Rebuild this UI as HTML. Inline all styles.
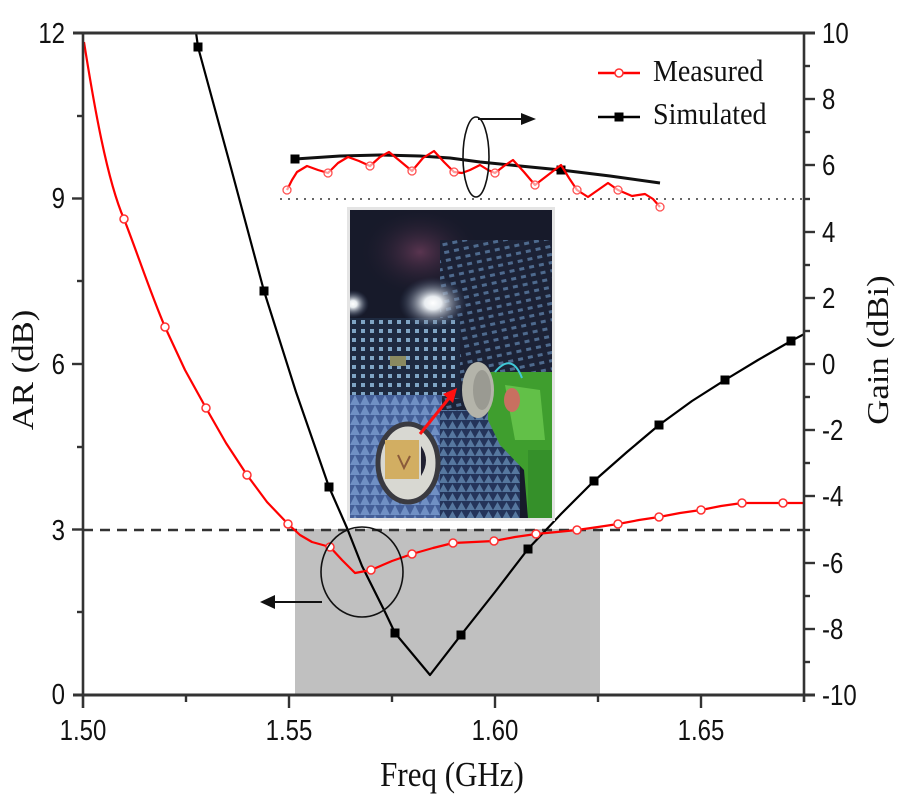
<!DOCTYPE html>
<html><head><meta charset="utf-8"><style>
html,body{margin:0;padding:0;background:#fff;}
svg{display:block;}
.tl{font-family:"Liberation Sans",Arial,sans-serif;font-size:24px;fill:#111;}
.tt{font-family:"Liberation Serif","Times New Roman",serif;fill:#111;}
</style></head><body>
<svg width="900" height="800" viewBox="0 0 900 800" xmlns="http://www.w3.org/2000/svg">
<defs>
<clipPath id="plot"><rect x="83" y="33" width="721" height="662"/></clipPath>
<clipPath id="ph"><rect x="350" y="210" width="202" height="308"/></clipPath>
<radialGradient id="glow1" cx="0.5" cy="0.5" r="0.5"><stop offset="0" stop-color="#ffffff"/><stop offset="0.25" stop-color="#e8ecf0"/><stop offset="1" stop-color="#3a4a6a" stop-opacity="0"/></radialGradient>
<radialGradient id="purp" cx="0.5" cy="0.5" r="0.5"><stop offset="0" stop-color="#5a3550"/><stop offset="1" stop-color="#1a1a2a" stop-opacity="0"/></radialGradient>
<pattern id="grid" x="350" y="318" width="9" height="9" patternUnits="userSpaceOnUse"><rect width="9" height="9" fill="#1e2a40"/><rect x="2" y="2" width="4" height="4" fill="#7fa5c4"/></pattern>
<pattern id="grid2" x="440" y="240" width="10" height="8" patternUnits="userSpaceOnUse" patternTransform="rotate(-12)"><rect width="10" height="8" fill="#1c2236"/><rect x="2" y="2" width="5" height="3" fill="#4e6a8e"/></pattern>
<pattern id="spk" x="350" y="395" width="10" height="10" patternUnits="userSpaceOnUse"><rect width="10" height="10" fill="#445f98"/><path d="M0 10 L5 0 L10 10 Z" fill="#7090c4"/></pattern>
<pattern id="pyr" x="430" y="420" width="9" height="9" patternUnits="userSpaceOnUse"><rect width="9" height="9" fill="#24345a"/><path d="M0 9 L4.5 1 L9 9Z" fill="#56779f"/></pattern>
</defs>

<!-- gray band -->
<rect x="295" y="529" width="305" height="166" fill="#c0c0c0"/>

<!-- dashed 3 dB line -->
<line x1="83" y1="530" x2="804" y2="530" stroke="#333" stroke-width="2.5" stroke-dasharray="10,7"/>
<!-- dotted gain 5 line -->
<line x1="280" y1="199" x2="804" y2="199" stroke="#333" stroke-width="1.6" stroke-dasharray="2,6"/>

<g clip-path="url(#plot)">
<!-- simulated AR (black) -->
<polyline fill="none" stroke="#000" stroke-width="2.2" stroke-linejoin="round" points="195,25 198,47 231,168 264,291 296,392 329,487 347,528 362,566 385,612 395,633 430,675 461,635 495,592 528,549 561,514 594,481 627,452 659,425 692,401 725,380 758,360 791,341 806,333"/>
<!-- measured AR (red) -->
<path fill="none" stroke="#ff0000" stroke-width="2.2" stroke-linejoin="round" d="M84,42 C94,105 107,180 124,219 C137,252 150,292 165,327 L185,370 206,408 226,443 247,475 267,502 288,524 300,535 312,542 330,547 342,560 355,573 371,570 392,561 412,554 433,548 453,543 474,542 494,541 515,537 536,534 557,532 577,530 598,527 618,524 639,520 659,517 680,513 701,510 721,506 742,503 762,503 783,503 804,503"/>
</g>
<g fill="#000">
<rect x="193.5" y="42.5" width="9" height="9"/><rect x="259.5" y="286.5" width="9" height="9"/><rect x="324.5" y="482.5" width="9" height="9"/><rect x="390.5" y="628.5" width="9" height="9"/><rect x="456.5" y="630.5" width="9" height="9"/><rect x="523.5" y="544.5" width="9" height="9"/><rect x="589.5" y="476.5" width="9" height="9"/><rect x="654.5" y="420.5" width="9" height="9"/><rect x="720.5" y="375.5" width="9" height="9"/><rect x="786.5" y="336.5" width="9" height="9"/>
</g>
<g fill="#fff" stroke="#ff3030" stroke-width="1.5">
<circle cx="124" cy="219" r="4"/><circle cx="165" cy="327" r="4"/><circle cx="206" cy="408" r="4"/><circle cx="247" cy="475" r="4"/><circle cx="288" cy="524" r="4"/><circle cx="330" cy="547" r="4"/><circle cx="371" cy="570" r="4"/><circle cx="412" cy="554" r="4"/><circle cx="453" cy="543" r="4"/><circle cx="494" cy="541" r="4"/><circle cx="536" cy="534" r="4"/><circle cx="577" cy="530" r="4"/><circle cx="618" cy="524" r="4"/><circle cx="659" cy="517" r="4"/><circle cx="701" cy="510" r="4"/><circle cx="742" cy="503" r="4"/><circle cx="783" cy="503" r="4"/>
</g>

<!-- gain inset curves -->
<polyline fill="none" stroke="#111" stroke-width="3" stroke-linejoin="round" points="295,159 340,156 380,155 420,156 450,158 480,162 520,166 561,170 610,176 660,183"/>
<rect x="290.5" y="154.5" width="9" height="9" fill="#000"/>
<rect x="556.5" y="165.5" width="9" height="9" fill="#000"/>
<polyline fill="none" stroke="#ff0000" stroke-width="2.2" stroke-linejoin="round" points="287,190 292,180 297,172 307,166 318,170 328,173 338,163 348,157 359,161 370,166 380,157 389,152 400,161 412,171 423,158 434,151 444,162 454,172 462,173 470,170 480,165 488,170 495,173 504,166 513,160 524,172 535,185 548,175 561,165 569,178 577,190 588,197 598,190 608,183 618,190 632,196 645,194 653,199 660,207"/>
<g fill="#fff" fill-opacity="0.6" stroke="#ff5050" stroke-width="1.3">
<circle cx="287" cy="190" r="4"/><circle cx="328" cy="173" r="4"/><circle cx="370" cy="166" r="4"/><circle cx="412" cy="171" r="4"/><circle cx="454" cy="172" r="4"/><circle cx="495" cy="173" r="4"/><circle cx="535" cy="185" r="4"/><circle cx="577" cy="190" r="4"/><circle cx="618" cy="190" r="4"/><circle cx="660" cy="207" r="4"/>
</g>
<ellipse cx="476" cy="157" rx="13" ry="40" fill="none" stroke="#111" stroke-width="1.6"/>
<line x1="478" y1="119" x2="524" y2="119" stroke="#111" stroke-width="2"/>
<path d="M521 113 L536 119 L521 125 Z" fill="#111"/>

<!-- AR annotation -->
<ellipse cx="362" cy="572" rx="41" ry="45" fill="none" stroke="#111" stroke-width="1.6"/>
<line x1="322" y1="602" x2="270" y2="602" stroke="#111" stroke-width="2"/>
<path d="M275 595 L260 602 L275 609 Z" fill="#111"/>

<!-- photo -->
<rect x="347" y="207" width="208" height="314" fill="#e4e4e4"/>
<g clip-path="url(#ph)">
<rect x="350" y="210" width="202" height="308" fill="#171a2a"/>
<ellipse cx="420" cy="252" rx="60" ry="45" fill="url(#purp)"/>
<rect x="440" y="240" width="112" height="170" fill="url(#grid2)"/>
<rect x="350" y="318" width="110" height="80" fill="url(#grid)"/>
<ellipse cx="433" cy="303" rx="34" ry="26" fill="url(#glow1)"/>
<ellipse cx="353" cy="304" rx="16" ry="14" fill="url(#glow1)"/>
<rect x="390" y="356" width="16" height="10" fill="#8a8a60"/>
<rect x="350" y="395" width="92" height="123" fill="url(#spk)"/>
<rect x="440" y="410" width="80" height="108" fill="url(#pyr)"/>
<ellipse cx="408" cy="463" rx="30" ry="39" fill="#d8d8d2" stroke="#3a3a40" stroke-width="5"/>
<rect x="385" y="440" width="34" height="39" fill="#d2ae62"/>
<path d="M421 446 Q431 460 421 476 Z" fill="#202030"/>
<path d="M398 455 L404 468 L410 456" stroke="#8a5a3a" stroke-width="2" fill="none"/>
<path d="M488 372 L552 372 L552 518 L528 518 L524 470 L500 445 L488 420 Z" fill="#3f9e2e"/>
<path d="M505 385 L540 390 L545 440 L515 440 Z" fill="#62c048"/>
<rect x="528" y="450" width="24" height="68" fill="#35902a"/>
<ellipse cx="478" cy="390" rx="16" ry="28" fill="#b4b4aa"/>
<ellipse cx="482" cy="390" rx="9" ry="20" fill="#9a9a92"/>
<path d="M495 372 Q512 352 522 378" stroke="#40c8d8" stroke-width="2" fill="none"/>
<ellipse cx="512" cy="400" rx="8" ry="12" fill="#c87060"/>
<line x1="420" y1="434" x2="450" y2="397" stroke="#ff1010" stroke-width="3"/>
<path d="M443 394 L457 388 L453 403 Z" fill="#ff1010"/>
</g>

<!-- axes frame -->
<g stroke="#333" stroke-width="2.6" fill="none">
<line x1="73" y1="33" x2="815" y2="33" stroke-width="3"/>
<line x1="83" y1="33" x2="83" y2="708"/>
<line x1="804" y1="33" x2="804" y2="702"/>
<line x1="73" y1="695" x2="815" y2="695" stroke-width="3"/>
</g>
<!-- left ticks -->
<g stroke="#333" stroke-width="2.4">
<line x1="72" y1="198.5" x2="83" y2="198.5"/><line x1="72" y1="364" x2="83" y2="364"/><line x1="72" y1="529.5" x2="83" y2="529.5"/>
<line x1="77" y1="116" x2="83" y2="116"/><line x1="77" y1="281" x2="83" y2="281"/><line x1="77" y1="447" x2="83" y2="447"/><line x1="77" y1="612" x2="83" y2="612"/>
<!-- right ticks -->
<line x1="804" y1="99" x2="815" y2="99"/><line x1="804" y1="165" x2="815" y2="165"/><line x1="804" y1="232" x2="815" y2="232"/><line x1="804" y1="298" x2="815" y2="298"/><line x1="804" y1="364" x2="815" y2="364"/><line x1="804" y1="430" x2="815" y2="430"/><line x1="804" y1="496" x2="815" y2="496"/><line x1="804" y1="563" x2="815" y2="563"/><line x1="804" y1="629" x2="815" y2="629"/>
<line x1="804" y1="66" x2="810" y2="66"/><line x1="804" y1="132" x2="810" y2="132"/><line x1="804" y1="199" x2="810" y2="199"/><line x1="804" y1="265" x2="810" y2="265"/><line x1="804" y1="331" x2="810" y2="331"/><line x1="804" y1="397" x2="810" y2="397"/><line x1="804" y1="463" x2="810" y2="463"/><line x1="804" y1="530" x2="810" y2="530"/><line x1="804" y1="596" x2="810" y2="596"/><line x1="804" y1="662" x2="810" y2="662"/>
<!-- bottom ticks -->
<line x1="289" y1="695" x2="289" y2="708"/><line x1="495" y1="695" x2="495" y2="708"/><line x1="701" y1="695" x2="701" y2="708"/>
<line x1="186" y1="695" x2="186" y2="702"/><line x1="392" y1="695" x2="392" y2="702"/><line x1="598" y1="695" x2="598" y2="702"/>
</g>

<!-- left tick labels -->
<g class="tl" text-anchor="end">
<text transform="translate(65,43) scale(1,1.18)">12</text>
<text transform="translate(65,208) scale(1,1.18)">9</text>
<text transform="translate(65,374) scale(1,1.18)">6</text>
<text transform="translate(65,540) scale(1,1.18)">3</text>
<text transform="translate(65,704) scale(1,1.18)">0</text>
</g>
<!-- right tick labels -->
<g class="tl">
<text transform="translate(822,43) scale(1,1.18)">10</text>
<text transform="translate(822,109) scale(1,1.18)">8</text>
<text transform="translate(822,175) scale(1,1.18)">6</text>
<text transform="translate(822,242) scale(1,1.18)">4</text>
<text transform="translate(822,308) scale(1,1.18)">2</text>
<text transform="translate(822,374) scale(1,1.18)">0</text>
<text transform="translate(822,440) scale(1,1.18)">-2</text>
<text transform="translate(822,506) scale(1,1.18)">-4</text>
<text transform="translate(822,573) scale(1,1.18)">-6</text>
<text transform="translate(822,639) scale(1,1.18)">-8</text>
<text transform="translate(822,705) scale(1,1.18)">-10</text>
</g>
<!-- bottom tick labels -->
<g class="tl" text-anchor="middle">
<text transform="translate(83,740) scale(1,1.18)">1.50</text>
<text transform="translate(289,740) scale(1,1.18)">1.55</text>
<text transform="translate(495,740) scale(1,1.18)">1.60</text>
<text transform="translate(701,740) scale(1,1.18)">1.65</text>
</g>

<!-- axis titles -->
<text class="tt" font-size="31" transform="translate(452,786) scale(1,1.12)" text-anchor="middle">Freq (GHz)</text>
<text class="tt" font-size="31" transform="translate(33,370) rotate(-90) scale(1.12,1)" text-anchor="middle">AR (dB)</text>
<text class="tt" font-size="31" transform="translate(888,350) rotate(-90) scale(1.12,1)" text-anchor="middle">Gain (dBi)</text>

<!-- legend -->
<line x1="598" y1="73" x2="640" y2="73" stroke="#ff0000" stroke-width="2.5"/>
<circle cx="619" cy="73" r="4" fill="#fff" stroke="#ff3030" stroke-width="1.5"/>
<line x1="598" y1="117" x2="640" y2="117" stroke="#000" stroke-width="2.5"/>
<rect x="614.5" y="112.5" width="9" height="9" fill="#000"/>
<text class="tt" font-size="28" transform="translate(653,81) scale(1,1.1)">Measured</text>
<text class="tt" font-size="28" transform="translate(653,124) scale(1,1.1)">Simulated</text>
</svg>
</body></html>
